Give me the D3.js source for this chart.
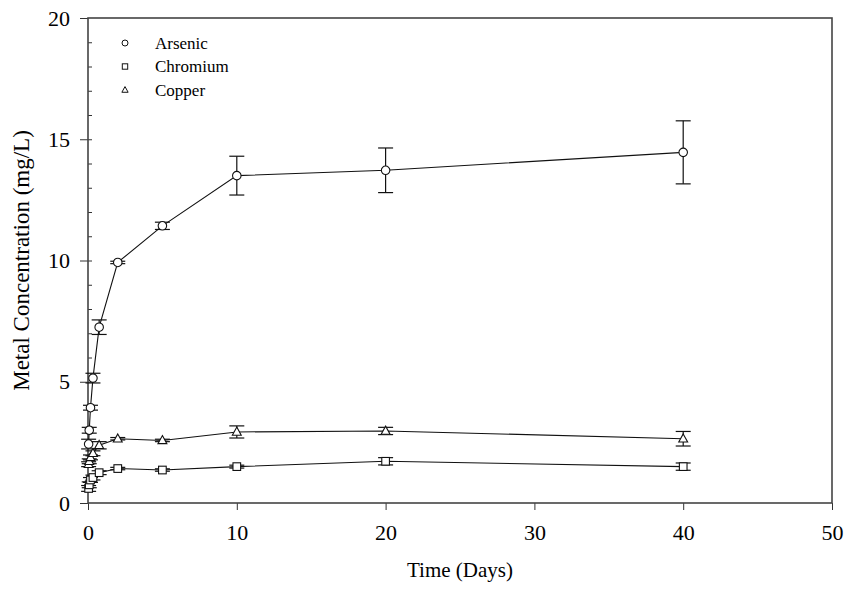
<!DOCTYPE html>
<html>
<head>
<meta charset="utf-8">
<script src="https://cdn.jsdelivr.net/npm/d3@7"></script>
<style>
  body { margin: 0; background: #fff; }
  text { font-family: "Liberation Serif", "Times New Roman", serif; fill: #000; }
</style>
</head>
<body>
<div id="chart"></div>
<script>
// sampling times (days)
const days = [0.042, 0.083, 0.167, 0.333, 0.75, 2, 5, 10, 20, 40];

const arsenic    = [2.43, 3.0, 3.93, 5.15, 7.25, 9.92, 11.43, 13.5, 13.72, 14.46];
const arsenicErr = [0.2, 0.12, 0.1, 0.2, 0.3, 0.05, 0.15, 0.8, 0.92, 1.3];
const chromium    = [0.6, 0.75, 0.95, 1.05, 1.25, 1.42, 1.36, 1.5, 1.72, 1.5];
const chromiumErr = [0.12, 0.12, 0.1, 0.1, 0.08, 0.05, 0.05, 0.06, 0.15, 0.15];
const copper    = [1.6, 1.72, 1.88, 2.05, 2.38, 2.65, 2.58, 2.93, 2.97, 2.65];
const copperErr = [0.1, 0.1, 0.1, 0.1, 0.15, 0.05, 0.05, 0.25, 0.15, 0.3];

const seriesNames = ["Arsenic", "Chromium", "Copper"];
const xTicks = [0, 10, 20, 30, 40, 50];
const yTicks = [0, 5, 10, 15, 20];

const margin = {top: 18, right: 14, bottom: 87, left: 88},
  width = 846 - margin.left - margin.right,
  height = 590 - margin.top - margin.bottom;

const svg = d3.select("#chart").append("svg")
  .attr("width", 846)
  .attr("height", 590);

const g = svg.append("g")
  .attr("transform", `translate(${margin.left}, ${margin.top})`);

const x = d3.scaleLinear().domain([0, 50]).range([0, width]);
const y = d3.scaleLinear().domain([0, 20]).range([height, 0]);

// minor y ticks, inside
g.append("g")
  .call(d3.axisRight(y).tickValues(d3.range(1, 20)).tickSize(4).tickFormat(""))
  .call(a => a.select(".domain").remove())
  .selectAll("line").attr("stroke", "#333");

// major y ticks, outside
g.append("g")
  .call(d3.axisLeft(y).tickValues(yTicks).tickSize(8).tickPadding(10))
  .call(a => a.select(".domain").remove())
  .call(a => a.selectAll("line").attr("stroke", "#333"))
  .call(a => a.selectAll("text").attr("font-size", 22).attr("font-family", "Liberation Serif"));

// x ticks, outside
g.append("g")
  .attr("transform", `translate(0, ${height})`)
  .call(d3.axisBottom(x).tickValues(xTicks).tickSize(7).tickPadding(14))
  .call(a => a.select(".domain").remove())
  .call(a => a.selectAll("line").attr("stroke", "#333"))
  .call(a => a.selectAll("text").attr("font-size", 22).attr("font-family", "Liberation Serif"));

// frame
g.append("rect")
  .attr("width", width)
  .attr("height", height)
  .attr("fill", "none")
  .attr("stroke", "#444")
  .attr("stroke-width", 1.6);

const series = [
  {name: seriesNames[0], vals: arsenic, err: arsenicErr, shape: "circle"},
  {name: seriesNames[1], vals: chromium, err: chromiumErr, shape: "square"},
  {name: seriesNames[2], vals: copper, err: copperErr, shape: "triangle"}
];

function marker(sel, shape, s) {
  if (shape === "circle") {
    sel.append("circle").attr("r", s * 0.5);
  } else if (shape === "square") {
    sel.append("rect").attr("x", -s * 0.45).attr("y", -s * 0.45)
      .attr("width", s * 0.9).attr("height", s * 0.9);
  } else {
    const h = s * 0.95;
    sel.append("path").attr("d", `M0,${-h * 0.6}L${h * 0.55},${h * 0.4}L${-h * 0.55},${h * 0.4}Z`);
  }
}

const line = d3.line()
  .x((d, i) => x(days[i]))
  .y(d => y(d));

series.forEach(s => {
  const pts = days.map((t, i) => ({t, v: s.vals[i], e: s.err[i]}));

  // error bars
  const eb = g.append("g").attr("stroke", "#111").attr("stroke-width", 1.2);
  pts.forEach(p => {
    eb.append("line").attr("x1", x(p.t)).attr("x2", x(p.t))
      .attr("y1", y(p.v - p.e)).attr("y2", y(p.v + p.e));
    [p.v - p.e, p.v + p.e].forEach(v => {
      eb.append("line").attr("x1", x(p.t) - 7.5).attr("x2", x(p.t) + 7.5)
        .attr("y1", y(v)).attr("y2", y(v));
    });
  });

  g.append("path")
    .datum(s.vals)
    .attr("fill", "none")
    .attr("stroke", "#111")
    .attr("stroke-width", 1.1)
    .attr("d", line);

  g.append("g").selectAll("g")
    .data(pts)
    .join("g")
      .attr("transform", p => `translate(${x(p.t)}, ${y(p.v)})`)
      .attr("fill", "#fff")
      .attr("stroke", "#111")
      .attr("stroke-width", 1.1)
      .each(function() { marker(d3.select(this), s.shape, 8.5); });
});

// legend
const legend = g.append("g").attr("transform", "translate(37, 25)");
series.forEach((s, i) => {
  const row = legend.append("g").attr("transform", `translate(0, ${i * 23.5})`);
  row.append("g")
    .attr("fill", "#fff").attr("stroke", "#111").attr("stroke-width", 1)
    .call(sel => marker(sel, s.shape, 6));
  row.append("text")
    .attr("x", 30)
    .attr("y", 5.5)
    .attr("font-size", 17)
    .text(s.name);
});

// axis titles
svg.append("text")
  .attr("x", margin.left + width / 2)
  .attr("y", 577)
  .attr("text-anchor", "middle")
  .attr("font-size", 21)
  .text("Time (Days)");

svg.append("text")
  .attr("transform", `translate(29, ${margin.top + height / 2}) rotate(-90)`)
  .attr("text-anchor", "middle")
  .attr("font-size", 23)
  .text("Metal Concentration (mg/L)");
</script>
</body>
</html>
